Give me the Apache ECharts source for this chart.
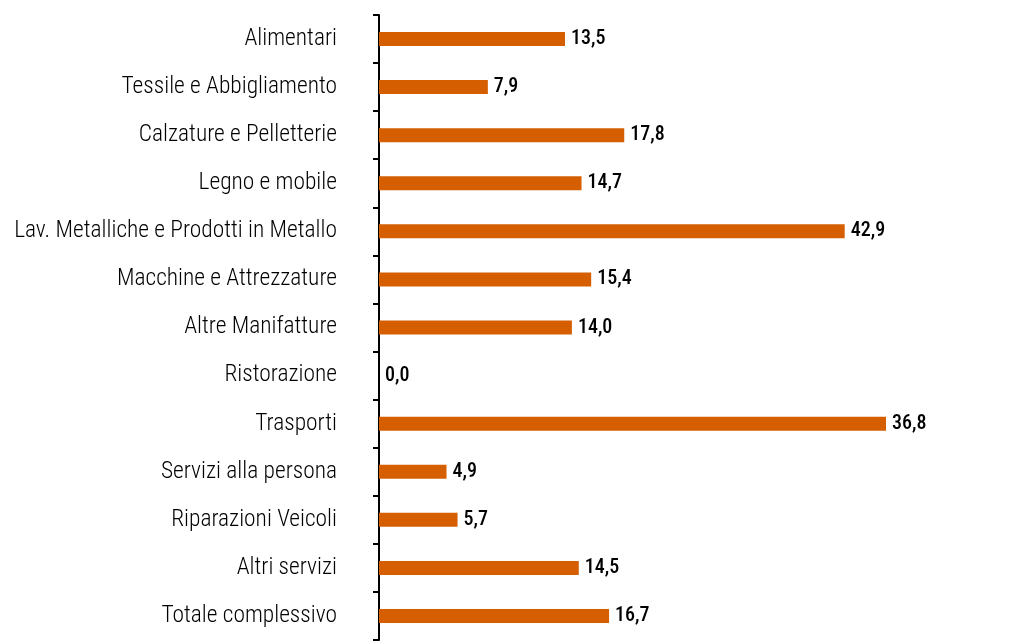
<!DOCTYPE html>
<html>
<head>
<meta charset="utf-8">
<script src="https://cdn.jsdelivr.net/npm/echarts@6/dist/echarts.min.js"></script>
<style>
html,body{margin:0;padding:0;background:#fff;}
#chart{width:1021px;height:644px;}
</style>
</head>
<body>
<div id="chart"></div>
<script>
// Categories (top to bottom)
const categories = [
  'Alimentari',
  'Tessile e Abbigliamento',
  'Calzature e Pelletterie',
  'Legno e mobile',
  'Lav. Metalliche e Prodotti in Metallo',
  'Macchine e Attrezzature',
  'Altre Manifatture',
  'Ristorazione',
  'Trasporti',
  'Servizi alla persona',
  'Riparazioni Veicoli',
  'Altri servizi',
  'Totale complessivo'
];
// Values printed next to the bars
const printedValues = [13.5, 7.9, 17.8, 14.7, 42.9, 15.4, 14.0, 0.0, 36.8, 4.9, 5.7, 14.5, 16.7];
// Bar lengths as drawn in the reference (the 42,9 bar is drawn shorter in the source)
const barLengths = [13.5, 7.9, 17.8, 14.7, 33.8, 15.4, 14.0, 0.0, 36.8, 4.9, 5.7, 14.5, 16.7];

const fam = 'Roboto Condensed';

function fitSize(text, family, target, weight){
  const c = document.createElement('canvas').getContext('2d');
  c.font = (weight||'normal') + ' 100px "' + family + '"';
  const w = c.measureText(text).width;
  return Math.min(24, 100*target/w);
}
const catSize = fitSize('Lav. Metalliche e Prodotti in Metallo', fam, 323, '300');

const chart = echarts.init(document.getElementById('chart'));
chart.setOption({
  animation: false,
  grid: { left: 379, right: 22, top: 15, bottom: 4, containLabel: false },
  xAxis: { type: 'value', min: 0, max: 45, show: false },
  yAxis: {
    type: 'category',
    data: categories,
    inverse: true,
    axisLine: { show: true, lineStyle: { color: '#000', width: 2 } },
    axisTick: { show: true, length: 6, lineStyle: { color: '#000', width: 2 } },
    axisLabel: { margin: 42, color: '#000', fontSize: catSize, fontFamily: fam, fontWeight: 300 },
    splitLine: { show: false }
  },
  series: [{
    type: 'bar',
    data: barLengths,
    barWidth: 14,
    itemStyle: { color: '#D55E00' },
    label: {
      show: true,
      position: 'right',
      distance: 6,
      color: '#000',
      fontFamily: fam,
      fontSize: 20,
      fontWeight: 500,
      formatter: function(p){ return printedValues[p.dataIndex].toFixed(1).replace('.', ','); }
    }
  }]
});
</script>
</body>
</html>
